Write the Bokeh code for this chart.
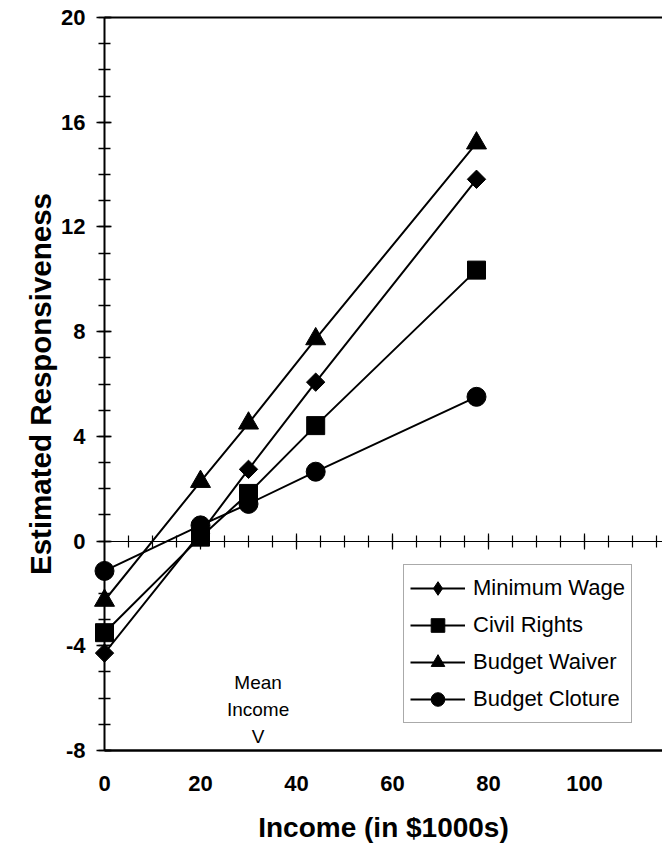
import numpy as np
from bokeh.plotting import figure
from bokeh.models import (LinearAxis, FixedTicker, Range1d, Legend, LegendItem,
                          CustomLabelingPolicy)
from bokeh.core.properties import value
from bokeh.embed import file_html
from bokeh.resources import INLINE

# ---------------- data ----------------
income = [0, 20, 30, 44, 77.5]
minimum_wage = [-4.28, 0.3, 2.74, 6.07, 13.82]
civil_rights = [-3.5, 0.15, 1.82, 4.41, 10.35]
budget_waiver = [-2.27, 2.27, 4.5, 7.72, 15.2]
budget_cloture = [-1.14, 0.6, 1.42, 2.65, 5.51]
series_names = ["Minimum Wage", "Civil Rights", "Budget Waiver", "Budget Cloture"]
y_major_ticks = [-8, -4, 0, 4, 8, 12, 16, 20]
y_minor_ticks = list(range(-8, 21))
y_tick_labels = {-8: "-8", -4: "-4", 0: "0", 4: "4", 8: "8", 12: "12", 16: "16", 20: "20"}
x_major_ticks = [0, 20, 40, 60, 80, 100]
zero_line_major = [20, 40, 60, 80, 100]
zero_line_minor = list(range(5, 116, 5))
mean_income = 32
mean_label = "Mean\nIncome\nV"
mean_label_y = -6.42

X_START, X_END = 0, 116.25
Y_START, Y_END = -8, 20

FONT = "Liberation Sans"

p = figure(width=662, height=848, output_backend="svg", toolbar_location=None,
           x_range=Range1d(X_START, X_END), y_range=Range1d(Y_START, Y_END),
           min_border_left=104, min_border_right=0, min_border_top=17,
           min_border_bottom=98)
p.grid.visible = False
p.outline_line_color = None
p.background_fill_color = "white"
p.border_fill_color = "white"

no_labels = CustomLabelingPolicy(code="""
for (const i of indices) { indices.unset(i) }
return indices
""")

# left axis
ya = p.yaxis[0]
ya.ticker = FixedTicker(ticks=y_major_ticks, minor_ticks=y_minor_ticks)
ya.major_label_overrides = y_tick_labels
ya.major_tick_in = 7
ya.major_tick_out = 8
ya.minor_tick_in = 6
ya.minor_tick_out = 6
ya.axis_line_width = 2
ya.major_tick_line_width = 1.5
ya.minor_tick_line_width = 1.5
ya.major_label_text_font = FONT
ya.major_label_text_font_style = "bold"
ya.major_label_text_font_size = "22px"
ya.major_label_standoff = 11
ya.axis_label = "Estimated Responsiveness"
ya.axis_label_text_font = FONT
ya.axis_label_text_font_style = "bold"
ya.axis_label_text_font_size = "29.5px"
ya.axis_label_standoff = 1
ya.axis_line_color = "black"
ya.major_tick_line_color = "black"
ya.minor_tick_line_color = "black"
ya.major_label_text_color = "black"
ya.axis_label_text_color = "black"

# bottom axis (frame bottom with labels)
xa = p.xaxis[0]
xa.ticker = FixedTicker(ticks=x_major_ticks)
xa.major_tick_in = 0
xa.major_tick_out = 0
xa.minor_tick_in = 0
xa.minor_tick_out = 0
xa.axis_line_width = 2.5
xa.axis_line_color = "black"
xa.major_label_text_font = FONT
xa.major_label_text_font_style = "bold"
xa.major_label_text_font_size = "22px"
xa.major_label_text_color = "black"
xa.major_label_standoff = 25
xa.axis_label = "Income (in $1000s)"
xa.axis_label_text_font = FONT
xa.axis_label_text_font_style = "bold"
xa.axis_label_text_font_size = "28px"
xa.axis_label_text_color = "black"
xa.axis_label_standoff = 18

# top frame line (no ticks, no labels)
top_axis = LinearAxis(ticker=FixedTicker(ticks=[], minor_ticks=[]),
                      major_tick_in=0, major_tick_out=0, minor_tick_in=0, minor_tick_out=0,
                      major_label_standoff=0, axis_line_width=2, axis_line_color="black")
p.add_layout(top_axis, "above")

# zero line with crossing ticks, labels suppressed
zero_axis = LinearAxis(fixed_location=0,
                       ticker=FixedTicker(ticks=zero_line_major, minor_ticks=zero_line_minor),
                       major_label_policy=no_labels, major_label_text_font_size="1px",
                       major_label_standoff=0,
                       major_tick_in=8, major_tick_out=8, minor_tick_in=6, minor_tick_out=6,
                       axis_line_width=1.2, major_tick_line_width=1.2, minor_tick_line_width=1.2,
                       axis_line_color="black", major_tick_line_color="black",
                       minor_tick_line_color="black")
p.add_layout(zero_axis, "above")

# ---------------- series ----------------
items = []
# Minimum Wage - diamond
l1 = p.line(income, minimum_wage, line_color="black", line_width=2)
s1 = p.scatter(income, minimum_wage, marker="square", angle=np.pi / 4, size=13,
               fill_color="black", line_color="black", level="overlay")
s1_leg = p.scatter(income, minimum_wage, marker="diamond", size=20,
                   fill_color="black", line_color="black", visible=False)
items.append(LegendItem(label=series_names[0], renderers=[l1, s1_leg]))
# Civil Rights - square
l2 = p.line(income, civil_rights, line_color="black", line_width=2)
s2 = p.scatter(income, civil_rights, marker="square", size=18,
               fill_color="black", line_color="black", level="overlay")
items.append(LegendItem(label=series_names[1], renderers=[l2, s2]))
# Budget Waiver - triangle
l3 = p.line(income, budget_waiver, line_color="black", line_width=2)
s3 = p.scatter(income, budget_waiver, marker="triangle", size=20,
               fill_color="black", line_color="black", level="overlay")
items.append(LegendItem(label=series_names[2], renderers=[l3, s3]))
# Budget Cloture - circle
l4 = p.line(income, budget_cloture, line_color="black", line_width=2)
s4 = p.scatter(income, budget_cloture, marker="circle", size=19,
               fill_color="black", line_color="black", level="overlay")
items.append(LegendItem(label=series_names[3], renderers=[l4, s4]))

legend = Legend(items=items, location=(299, 27), border_line_color="#555555",
                border_line_width=1, background_fill_color="white", background_fill_alpha=1,
                padding=6, spacing=3, glyph_width=55, glyph_height=34, label_height=34,
                label_standoff=8, label_text_font=FONT, label_text_font_size="22px",
                label_text_color="black", margin=0)
p.add_layout(legend)

# mean income annotation
p.text(x=[mean_income], y=[mean_label_y], text=[mean_label], text_align="center",
       text_baseline="middle", text_font=value(FONT), text_font_size="19px",
       text_line_height=1.28, text_color="black")

open("out.html", "w").write(file_html(p, INLINE))
